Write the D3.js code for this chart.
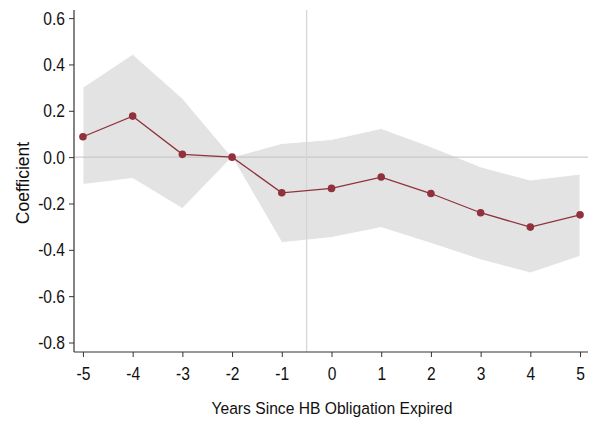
<!DOCTYPE html>
<html>
<head>
<meta charset="utf-8">
<script src="https://cdn.jsdelivr.net/npm/d3@7"></script>
<style>
  body { margin: 0; background: #fff; }
  text { font-family: "Liberation Sans", Arial, sans-serif; }
</style>
</head>
<body>
<svg id="chart" width="591" height="423"></svg>
<script>
const years = [-5, -4, -3, -2, -1, 0, 1, 2, 3, 4, 5];
const coef = [0.088, 0.177, 0.012, 0.0, -0.154, -0.135, -0.086, -0.157, -0.240, -0.302, -0.249];
const ciUpper = [0.301, 0.444, 0.254, 0.0, 0.059, 0.076, 0.124, 0.045, -0.042, -0.099, -0.073];
const ciLower = [-0.118, -0.092, -0.222, 0.0, -0.369, -0.347, -0.304, -0.372, -0.443, -0.500, -0.428];
const yTicks = [0.6, 0.4, 0.2, 0.0, -0.2, -0.4, -0.6, -0.8];
const xTicks = [-5, -4, -3, -2, -1, 0, 1, 2, 3, 4, 5];
const expiredAt = -0.5;

const MARGIN = { left: 74, right: 3, top: 10, bottom: 71 };
const WIDTH = 591, HEIGHT = 423;
// the original text is drawn tall and narrow
const TICK_FONT = 18, TICK_SQUEEZE = 0.867;

const svg = d3.select("#chart");

const x = d3.scaleLinear().domain([-5.18, 5.16]).range([MARGIN.left, WIDTH - MARGIN.right]);
const y = d3.scaleLinear().domain([-0.841, 0.635]).range([HEIGHT - MARGIN.bottom, MARGIN.top]);

const rows = years.map((yr, i) => ({ yr, c: coef[i], lo: ciLower[i], hi: ciUpper[i] }));

// confidence band
svg.append("path")
  .datum(rows)
  .attr("fill", "#e3e3e3")
  .attr("stroke", "#fff")
  .attr("stroke-width", 1)
  .attr("d", d3.area().x(d => x(d.yr)).y0(d => y(d.lo)).y1(d => y(d.hi)));

// reference lines
svg.append("line")
  .attr("x1", x.range()[0]).attr("x2", x.range()[1])
  .attr("y1", y(0)).attr("y2", y(0))
  .attr("stroke", "#c2c2c2").attr("stroke-width", 1);

svg.append("line")
  .attr("x1", x(expiredAt)).attr("x2", x(expiredAt))
  .attr("y1", y.range()[1]).attr("y2", y.range()[0])
  .attr("stroke", "#d4d4d4").attr("stroke-width", 1.2);

// coefficient line + markers
svg.append("path")
  .datum(rows)
  .attr("fill", "none")
  .attr("stroke", "#90313c")
  .attr("stroke-width", 1.3)
  .attr("d", d3.line().x(d => x(d.yr)).y(d => y(d.c)));

svg.append("g")
  .selectAll("circle")
  .data(rows)
  .join("circle")
  .attr("cx", d => x(d.yr))
  .attr("cy", d => y(d.c))
  .attr("r", 3.8)
  .attr("fill", "#90313c");

// axes
const yAxis = svg.append("g")
  .attr("transform", `translate(${MARGIN.left},0)`)
  .call(d3.axisLeft(y).tickValues(yTicks).tickSize(5));

const xAxis = svg.append("g")
  .attr("transform", `translate(0,${HEIGHT - MARGIN.bottom})`)
  .call(d3.axisBottom(x).tickValues(xTicks).tickSize(5).tickPadding(10));

[yAxis, xAxis].forEach(g => {
  g.selectAll(".domain").attr("stroke", "#333").attr("stroke-width", 1.2);
  g.selectAll(".tick line").attr("stroke", "#333");
  g.selectAll(".tick text")
    .attr("fill", "#111")
    .style("font-size", TICK_FONT + "px")
    .style("font-family", "'Liberation Sans', Arial, sans-serif");
});
yAxis.select(".domain").attr("d", `M0,${y.range()[0]}V${y.range()[1]}`);
xAxis.select(".domain").attr("d", `M${x.range()[0]},0H${x.range()[1]}`);

yAxis.selectAll(".tick text")
  .text(d => d.toFixed(1))
  .attr("x", 0)
  .attr("dy", "0.34em")
  .attr("transform", `translate(-9,0) scale(${TICK_SQUEEZE},1)`);
xAxis.selectAll(".tick text")
  .text(d => String(d))
  .attr("transform", `scale(${TICK_SQUEEZE},1)`);

// axis titles
svg.append("text")
  .attr("transform", "translate(332,414) scale(0.92,1)")
  .attr("text-anchor", "middle")
  .style("font-size", "17px")
  .attr("fill", "#111")
  .text("Years Since HB Obligation Expired");

svg.append("text")
  .attr("transform", "translate(29,183) rotate(-90)")
  .attr("text-anchor", "middle")
  .style("font-size", "17.5px")
  .attr("fill", "#111")
  .text("Coefficient");
</script>
</body>
</html>
